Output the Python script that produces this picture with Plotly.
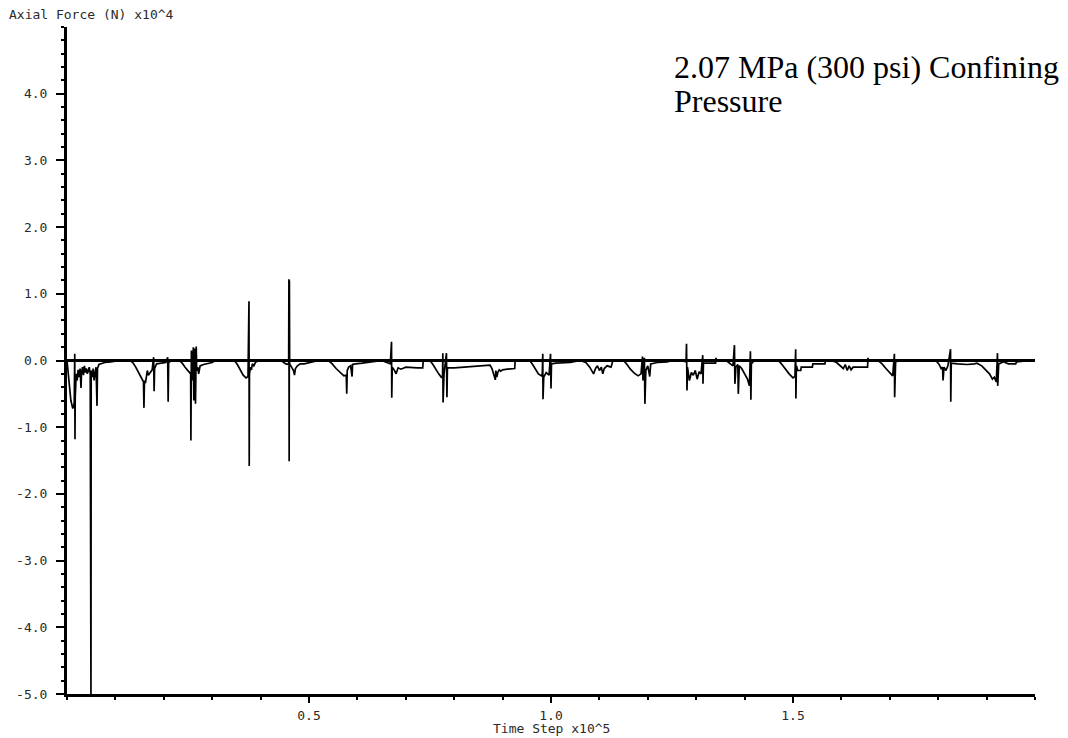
import plotly.graph_objects as go

# Axial force record from the triaxial test: time step (x10^5) vs axial force (N, x10^4)
time_step = [
    # start-up cluster
    0.000, 0.002, 0.004, 0.006, 0.008, 0.010, 0.012, 0.014, 0.015, 0.016,
    0.0165, 0.017, 0.019, 0.021, 0.023, 0.025, 0.027, 0.029, 0.030, 0.032,
    0.034, 0.036, 0.038, 0.040, 0.042, 0.044, 0.046, 0.048, 0.0495, 0.0500,
    0.052, 0.054, 0.056, 0.058, 0.060, 0.062, 0.063, 0.066, 0.070, 0.078,
    0.090, 0.100, 0.110,
    # cycle 1
    0.130, 0.136, 0.142, 0.148, 0.154, 0.158, 0.159, 0.160, 0.162, 0.164,
    0.166, 0.168, 0.172, 0.176, 0.179, 0.180, 0.181, 0.185, 0.195, 0.204,
    0.208, 0.209, 0.210, 0.216,
    # cycle 2
    0.232, 0.238, 0.244, 0.250, 0.2555, 0.256, 0.257, 0.259, 0.261, 0.262,
    0.264, 0.2655, 0.267, 0.268, 0.270, 0.272, 0.275, 0.282, 0.292, 0.300,
    0.306,
    # cycle 3
    0.346, 0.352, 0.358, 0.364, 0.370, 0.374, 0.375, 0.3755, 0.376, 0.3765,
    0.377, 0.379, 0.381, 0.383, 0.386, 0.390, 0.400,
    # cycle 4
    0.440, 0.446, 0.452, 0.458, 0.4585, 0.459, 0.4595, 0.460, 0.464, 0.468,
    0.470, 0.472, 0.476, 0.482, 0.490, 0.500, 0.510, 0.520,
    # cycle 5
    0.540, 0.548, 0.556, 0.564, 0.572, 0.577, 0.578, 0.579, 0.582, 0.586,
    0.589, 0.590, 0.596, 0.610, 0.625, 0.640,
    # cycle 6
    0.650, 0.660, 0.668, 0.6705, 0.671, 0.672, 0.676, 0.680, 0.684, 0.690,
    0.700, 0.712, 0.724, 0.735, 0.736, 0.745,
    # cycle 7
    0.750, 0.756, 0.762, 0.768, 0.774, 0.776, 0.7765, 0.777, 0.779, 0.784,
    0.785, 0.786, 0.800, 0.820, 0.840, 0.855, 0.870,
    # cycle 8
    0.874, 0.878, 0.882, 0.885, 0.886, 0.888, 0.890, 0.893, 0.896, 0.900,
    0.910, 0.920, 0.925, 0.926, 0.940,
    # cycle 9
    0.956, 0.962, 0.968, 0.974, 0.980, 0.982, 0.983, 0.9835, 0.985, 0.990,
    0.996, 0.999, 1.000, 1.001, 1.010, 1.030, 1.040,
    # cycle 10
    1.060, 1.072, 1.080, 1.088, 1.092, 1.096, 1.100, 1.104, 1.107, 1.110,
    1.116, 1.124, 1.128, 1.140,
    # cycle 11
    1.150, 1.156, 1.164, 1.172, 1.180, 1.186, 1.189, 1.190, 1.193, 1.194,
    1.196, 1.200, 1.204, 1.206, 1.220, 1.240, 1.250,
    # cycle 12
    1.270, 1.279, 1.280, 1.281, 1.282, 1.286, 1.290, 1.294, 1.298, 1.302,
    1.306, 1.310, 1.3135, 1.314, 1.315, 1.330, 1.340, 1.341, 1.342,
    # cycle 13
    1.362, 1.370, 1.376, 1.379, 1.380, 1.382, 1.386, 1.387, 1.389, 1.394,
    1.400, 1.406, 1.410, 1.412, 1.413, 1.414, 1.420,
    # cycle 14
    1.470, 1.476, 1.484, 1.492, 1.500, 1.504, 1.5055, 1.506, 1.507, 1.510,
    1.516, 1.517, 1.530, 1.540, 1.541, 1.560, 1.566, 1.567,
    # cycle 15
    1.580, 1.590, 1.598, 1.604, 1.608, 1.612, 1.616, 1.620, 1.624, 1.640,
    1.654, 1.655, 1.656,
    # cycle 16
    1.676, 1.684, 1.692, 1.700, 1.706, 1.7095, 1.710, 1.712, 1.720,
    # cycle 17
    1.795, 1.802, 1.806, 1.809, 1.810, 1.812, 1.816, 1.820, 1.8255, 1.826,
    1.827, 1.840, 1.860, 1.875,
    # cycle 18 and tail
    1.880, 1.890, 1.898, 1.906, 1.912, 1.916, 1.920, 1.9225, 1.923, 1.925,
    1.935, 1.945, 1.960, 1.962, 1.990, 2.000,
]

axial_force = [
    # start-up cluster
    0.00, -0.20, -0.38, -0.45, -0.60, -0.66, -0.72, -0.68, -0.62, 0.10,
    -1.18, -0.55, -0.20, -0.30, -0.14, -0.25, -0.12, -0.41, -0.18, -0.10,
    -0.22, -0.08, -0.18, -0.12, -0.20, -0.15, -0.10, -0.20, -5.00, -0.15,
    -0.25, -0.12, -0.30, -0.18, -0.10, -0.68, -0.12, -0.06, -0.05, -0.03,
    -0.02, -0.01, 0.00,
    # cycle 1
    0.00, -0.03, -0.10, -0.18, -0.26, -0.32, -0.71, -0.30, -0.34, -0.20,
    -0.15, -0.22, -0.18, -0.14, 0.05, -0.46, -0.12, -0.05, -0.04, -0.03,
    0.05, -0.62, -0.03, 0.00,
    # cycle 2
    0.00, -0.04, -0.10, -0.16, -0.20, -1.20, 0.15, -0.30, 0.20, -0.60,
    0.18, -0.65, 0.21, -0.15, -0.10, -0.20, -0.08, -0.06, -0.04, -0.03,
    0.00,
    # cycle 3
    0.00, -0.06, -0.14, -0.22, -0.26, -0.24, 0.34, -0.94, 0.89, -1.58,
    -0.20, -0.10, -0.14, -0.05, -0.08, -0.02, 0.00,
    # cycle 4
    0.00, -0.02, -0.05, -0.06, 1.22, -1.51, 1.20, -0.05, -0.10, -0.15,
    -0.22, -0.12, -0.08, -0.05, -0.05, -0.03, -0.02, 0.00,
    # cycle 5
    0.00, -0.05, -0.12, -0.18, -0.23, -0.22, -0.50, -0.15, -0.10, -0.08,
    -0.24, -0.06, -0.05, -0.04, -0.02, -0.01,
    # cycle 6
    0.00, -0.03, -0.05, 0.28, -0.56, -0.10, -0.14, -0.20, -0.11, -0.13,
    -0.10, -0.11, -0.11, -0.11, 0.00, 0.00,
    # cycle 7
    0.00, -0.06, -0.14, -0.20, -0.26, -0.22, 0.11, -0.63, -0.20, 0.11,
    -0.55, -0.11, -0.11, -0.10, -0.09, -0.08, -0.07,
    # cycle 8
    -0.07, -0.12, -0.20, -0.29, -0.15, -0.25, -0.18, -0.14, -0.16, -0.14,
    -0.13, -0.12, -0.12, 0.00, 0.00,
    # cycle 9
    0.00, -0.06, -0.13, -0.20, -0.23, -0.20, 0.10, -0.58, -0.25, -0.18,
    -0.22, 0.10, -0.42, -0.05, -0.04, -0.04, -0.03,
    # cycle 10
    0.00, -0.03, -0.10, -0.20, -0.12, -0.08, -0.15, -0.10, -0.20, -0.12,
    -0.08, -0.10, 0.00, 0.00,
    # cycle 11
    0.00, -0.05, -0.13, -0.19, -0.23, -0.20, 0.06, -0.30, 0.04, -0.65,
    -0.15, -0.08, -0.24, -0.05, -0.03, -0.02, 0.00,
    # cycle 12
    0.00, -0.02, 0.25, -0.45, -0.10, -0.30, -0.18, -0.22, -0.15, -0.28,
    -0.17, -0.20, 0.08, -0.35, -0.04, -0.04, -0.04, 0.04, 0.00,
    # cycle 13
    0.00, -0.05, -0.08, 0.23, -0.35, -0.10, -0.06, -0.50, -0.08, -0.12,
    -0.20, -0.28, -0.38, 0.14, -0.59, -0.05, 0.00,
    # cycle 14
    0.00, -0.05, -0.13, -0.20, -0.26, -0.24, 0.17, -0.57, -0.08, -0.15,
    -0.15, -0.10, -0.10, -0.10, -0.05, -0.05, -0.05, 0.00,
    # cycle 15
    0.00, -0.03, -0.08, -0.12, -0.06, -0.15, -0.08, -0.14, -0.10, -0.10,
    -0.10, 0.04, 0.00,
    # cycle 16
    0.00, -0.05, -0.12, -0.19, -0.23, 0.10, -0.55, -0.02, 0.00,
    # cycle 17
    0.00, -0.06, -0.12, -0.10, -0.30, -0.10, -0.15, -0.08, 0.17, -0.62,
    -0.04, -0.05, -0.06, -0.05,
    # cycle 18 and tail
    -0.04, -0.08, -0.14, -0.20, -0.28, -0.25, -0.32, 0.11, -0.38, -0.05,
    -0.02, -0.05, -0.05, -0.02, 0.00, 0.00,
]

x_tick_values = [0.5, 1.0, 1.5]
x_tick_labels = ["0.5", "1.0", "1.5"]
y_tick_values = [-5, -4, -3, -2, -1, 0, 1, 2, 3, 4]
y_tick_labels = ["-5.0", "-4.0", "-3.0", "-2.0", "-1.0", "0.0", "1.0", "2.0", "3.0", "4.0"]

axis_font = dict(family="DejaVu Sans Mono", size=13, color="#2a2a2a")
note_font = dict(family="Liberation Serif", size=32, color="black")

fig = go.Figure()
fig.add_trace(go.Scatter(
    x=time_step, y=axial_force, mode="lines",
    line=dict(color="black", width=1.7),
    hoverinfo="skip", showlegend=False,
))

fig.update_layout(
    width=1068, height=738,
    margin=dict(l=67, r=33, t=27, b=44),
    paper_bgcolor="white", plot_bgcolor="white",
    xaxis=dict(
        range=[0, 2.0], showgrid=False, zeroline=False,
        showline=True, linecolor="black", linewidth=3,
        tickmode="array", tickvals=x_tick_values, ticktext=x_tick_labels,
        ticks="outside", ticklen=6, tickwidth=2, tickcolor="black",
        minor=dict(tickmode="linear", tick0=0, dtick=0.1, ticks="outside",
                   ticklen=3, tickwidth=1.5, tickcolor="black"),
        tickfont=axis_font, ticklabelstandoff=1,
    ),
    yaxis=dict(
        range=[-5, 5], showgrid=False,
        zeroline=True, zerolinecolor="black", zerolinewidth=2.5,
        showline=True, linecolor="black", linewidth=3,
        tickmode="array", tickvals=y_tick_values, ticktext=y_tick_labels,
        ticks="outside", ticklen=8, tickwidth=2, tickcolor="black",
        minor=dict(tickmode="linear", tick0=0, dtick=0.2, ticks="outside",
                   ticklen=3, tickwidth=1.5, tickcolor="black"),
        tickfont=axis_font, ticklabelstandoff=6,
    ),
    annotations=[
        dict(text="Axial Force (N) x10^4", xref="paper", yref="paper",
             x=-0.062, y=1.018, xanchor="left", yanchor="middle",
             showarrow=False, font=axis_font),
        dict(text="Time Step x10^5", xref="paper", yref="paper",
             x=0.5, y=-0.052, xanchor="center", yanchor="middle",
             showarrow=False, font=axis_font),
        dict(text="2.07 MPa (300 psi) Confining", xref="paper", yref="paper",
             x=0.625, y=0.940, xanchor="left", yanchor="middle",
             showarrow=False, font=note_font),
        dict(text="Pressure", xref="paper", yref="paper",
             x=0.625, y=0.889, xanchor="left", yanchor="middle",
             showarrow=False, font=note_font),
    ],
)

fig.write_html("out.html", config={"displayModeBar": False})
